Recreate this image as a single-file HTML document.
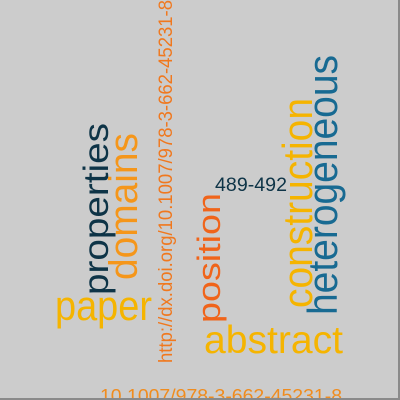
<!DOCTYPE html>
<html><head><meta charset="utf-8"><style>
html,body{margin:0;padding:0;background:#ccc;}
#wrap{position:relative;width:400px;height:400px;overflow:hidden;background:#cccccc;}
#frame{position:absolute;left:0;top:0;width:398px;height:398px;border-right:2px solid #8a8a8a;border-bottom:2px solid #8a8a8a;box-sizing:content-box;pointer-events:none;}
svg{position:absolute;left:0;top:0;}
text{font-family:"Liberation Sans",Arial,sans-serif;}
</style></head><body>
<div id="wrap">
<svg id="cloud" width="400" height="400"></svg>
<div id="frame"></div>
</div>
<script>
const words = ["paper","abstract","10.1007/978-3-662-45231-8","http://dx.doi.org/10.1007/978-3-662-45231-8","domains","position","489-492","construction","heterogeneous","properties"];
const sizes = [42,39,18,19,40,32,19.5,42,42,35];
const colors = ["#f5b400","#f5b400","#f08c1e","#f0781e","#f5961a","#f0641a","#0e3447","#f5b400","#186a92","#0e3447"];
const rotations = [0,0,0,-90,-90,-90,0,-90,-90,-90];
const anchorX = [55,204,100,172,137,220,215,312,337,108];
const anchorY = [320,353,402,363,280,323,191,308,315,295];
const lengths = [97,139,242,363,147,130,72,210,260,172];
const svg = document.getElementById('cloud');
const NS = 'http://www.w3.org/2000/svg';
for (let i = 0; i < words.length; i++) {
  const t = document.createElementNS(NS, 'text');
  
  
  t.setAttribute('x', 0);
  t.setAttribute('y', 0);
  t.setAttribute('font-size', sizes[i]);
  t.setAttribute('fill', colors[i]);
  t.setAttribute('textLength', lengths[i]);
  t.setAttribute('lengthAdjust', 'spacingAndGlyphs');
  t.setAttribute('transform', 'translate(' + anchorX[i] + ',' + anchorY[i] + ') rotate(' + rotations[i] + ')');
  t.textContent = words[i];
  svg.appendChild(t);
}
</script>
</body></html>
